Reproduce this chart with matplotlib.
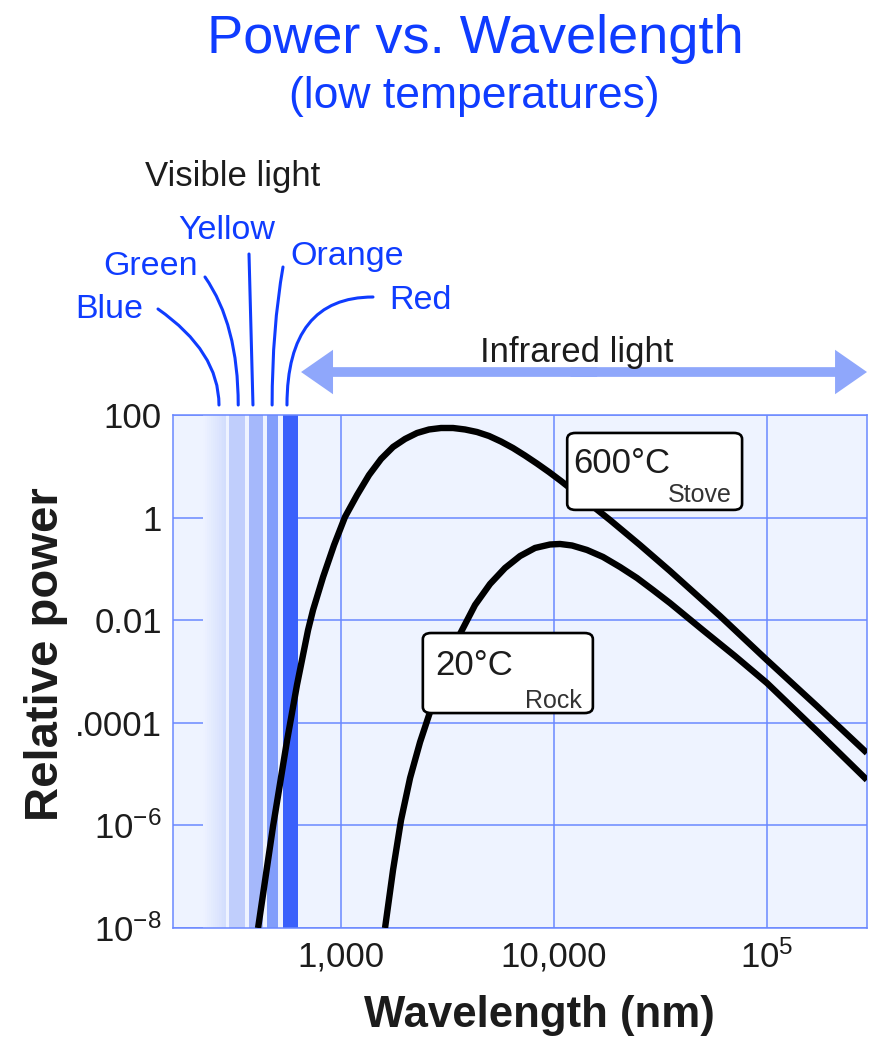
import matplotlib
matplotlib.use('Agg')
import matplotlib.pyplot as plt
from matplotlib.patches import FancyBboxPatch
import numpy as np

plt.rcParams['font.family'] = ['Liberation Sans', 'DejaVu Sans']
plt.rcParams['mathtext.fontset'] = 'custom'
plt.rcParams['mathtext.rm'] = 'Liberation Sans'
plt.rcParams['mathtext.default'] = 'regular'

# --- curves (wavelength in nm, relative power) ---
wl_stove = [409, 481, 560, 623, 702, 741, 826, 930, 1047, 1193, 1358, 1546, 1760,
            2004, 2282, 2597, 2957, 3368, 3833, 4364, 4969, 5656, 6441, 7333, 8349,
            9504, 10820, 14030, 18380, 25420, 35160, 60380, 100300, 172300, 295800]
pw_stove = [1e-8, 9.7e-7, 4.6e-5, 5.5e-4, 6.4e-3, 0.0158, 0.0695, 0.292, 1.03, 2.76,
            6.77, 13.9, 23.8, 34.1, 44.6, 52.2, 55.8, 55.8, 52.2, 46.6, 39.0, 30.4,
            22.7, 16.2, 11.3, 7.74, 5.17, 2.20, 0.898, 0.292, 0.091, 0.0121, 1.67e-3,
            2.12e-4, 2.58e-5]

wl_rock = [1614, 1760, 1919, 2116, 2357, 2626, 3088, 3632, 4272, 5023, 5906, 6948,
           8172, 9607, 10710, 12190, 14330, 17040, 20480, 24610, 29260, 35160, 50230,
           71010, 100300, 172300, 295800]
pw_rock = [1e-8, 1.35e-7, 1.27e-6, 8.4e-6, 4.2e-5, 1.63e-4, 9.8e-4, 5.4e-3, 0.0198,
           0.0508, 0.104, 0.178, 0.256, 0.299, 0.306, 0.286, 0.234, 0.171, 0.109,
           0.0665, 0.0388, 0.0216, 6.4e-3, 2.0e-3, 5.97e-4, 6.9e-5, 7.7e-6]

# visible colour bands (nm)
band_names = ['Blue', 'Green', 'Yellow', 'Orange', 'Red']
band_lo = [226, 299, 371, 451, 536]
band_hi = [290, 356, 431, 508, 630]
band_colors = ['#d2ddfd', '#c0cefc', '#a5b8fb', '#829efb', '#3a60fb']
band_tips = [268, 330, 387, 476, 559]

ytick_vals = [1e-8, 1e-6, 1e-4, 1e-2, 1, 100]
ytick_labels = ['$10^{-8}$', '$10^{-6}$', '.0001', '0.01', '1', '100']
xtick_vals = [1000, 10000, 100000]
xtick_labels = ['1,000', '10,000', '$10^{5}$']

W, H = 871, 1040
BG = '#eef3ff'
GRID = '#6a88ff'
BLUE = '#0f3cff'
INK = '#1c1c1c'


def fx(px):
    return px / W


def fy(py):
    return 1 - py / H


fig = plt.figure(figsize=(W / 100, H / 100), dpi=100)
ax = fig.add_axes([fx(173), 112 / H, 694 / W, 513 / H])
ax.set_facecolor(BG)
ax.set_xscale('log')
ax.set_yscale('log')
ax.set_xlim(163, 296000)
ax.set_ylim(1e-8, 1e2)

ax.set_xticks(xtick_vals, xtick_labels)
ax.set_yticks(ytick_vals, ytick_labels)
ax.minorticks_off()
ax.tick_params(which='both', length=0, labelsize=25, colors=INK)
ax.tick_params(axis='x', pad=9)
ax.tick_params(axis='y', pad=8)
ax.grid(True, which='major', color=GRID, lw=1.1)
ax.set_axisbelow(True)
for sp in ax.spines.values():
    sp.set_color(GRID)
    sp.set_linewidth(1.1)

# visible region: cover the grid, fade in the blue band, then the solid bands
ax.axvspan(band_lo[0], band_hi[-1], color=BG, lw=0, zorder=1)
edges = np.geomspace(band_lo[0], band_hi[0], 13)
ramp_start = np.array(matplotlib.colors.to_rgb(BG))
ramp_end = np.array(matplotlib.colors.to_rgb(band_colors[0]))
for i in range(12):
    t = (i + 0.5) / 12
    ax.axvspan(edges[i], edges[i + 1], color=ramp_start + (ramp_end - ramp_start) * t,
               lw=0, zorder=1.1)
for lo, hi, c in zip(band_lo[1:], band_hi[1:], band_colors[1:]):
    ax.axvspan(lo, hi, color=c, lw=0, zorder=1.1)

ax.plot(wl_stove, pw_stove, color='black', lw=4.6, solid_capstyle='butt',
        solid_joinstyle='round', zorder=3)
ax.plot(wl_rock, pw_rock, color='black', lw=4.6, solid_capstyle='butt',
        solid_joinstyle='round', zorder=3)


# temperature tags
def tag(x0, y0, w, h, big, small, bx, by, sx, sy):
    box = FancyBboxPatch((x0, y0), w, h, boxstyle='round,pad=0,rounding_size=0.012',
                         transform=ax.transAxes, facecolor='white', edgecolor='black',
                         lw=1.9, zorder=4)
    ax.add_patch(box)
    ax.text(bx, by, big, transform=ax.transAxes, fontsize=25, color=INK,
            ha='left', va='baseline', zorder=5)
    ax.text(sx, sy, small, transform=ax.transAxes, fontsize=18, color='#333333',
            ha='right', va='baseline', zorder=5)


tag(0.568, 0.815, 0.252, 0.150, '600°C', 'Stove', 0.577, 0.887, 0.805, 0.830)
tag(0.360, 0.419, 0.245, 0.156, '20°C', 'Rock', 0.378, 0.493, 0.589, 0.429)

# titles
fig.text(fx(475), fy(53), 'Power vs. Wavelength', ha='center', va='baseline',
         fontsize=39, color=BLUE)
fig.text(fx(474), fy(108), '(low temperatures)', ha='center', va='baseline',
         fontsize=32, color=BLUE)
fig.text(fx(46), fy(654), 'Relative power', rotation=90, ha='center', va='center',
         fontsize=34, fontweight='bold', color=INK)
fig.text(fx(539), fy(1027), 'Wavelength (nm)', ha='center', va='baseline',
         fontsize=31.5, fontweight='bold', color=INK)

# visible light labels and leader lines
fig.text(fx(145), fy(186), 'Visible light', ha='left', va='baseline', fontsize=25, color=INK)
label_pos = [(75, 318), (103, 275), (178, 239), (290, 265), (389, 309)]
lead_start = [(158, 309), (205, 277), (249, 254), (283, 267), (373, 297)]
lead_style = ['angle3,angleA=-35,angleB=90', 'angle3,angleA=-55,angleB=90',
              'arc3,rad=0', 'angle3,angleA=80,angleB=90', 'angle3,angleA=0,angleB=90']
for name, (lx, ly), (sx, sy), tip, cs in zip(band_names, label_pos, lead_start,
                                               band_tips, lead_style):
    fig.text(fx(lx), fy(ly), name, ha='left', va='baseline', fontsize=24.5, color=BLUE)
    ax.annotate('', xy=(tip, 1.0195), xycoords=('data', 'axes fraction'),
                xytext=(fx(sx), fy(sy)), textcoords='figure fraction',
                arrowprops=dict(arrowstyle='-', color=BLUE, lw=2.2, shrinkA=0, shrinkB=0,
                                connectionstyle=cs),
                annotation_clip=False)

# infrared double arrow (two overlapping halves)
ir_y = 1.0838
for start, end in ((16000, 651), (12000, 296000)):
    ax.annotate('', xy=(end, ir_y), xycoords=('data', 'axes fraction'),
                xytext=(start, ir_y), textcoords=('data', 'axes fraction'),
                arrowprops=dict(facecolor='#8fa7fb', edgecolor='none', width=7,
                                headwidth=32, headlength=23, shrink=0),
                annotation_clip=False)
fig.text(fx(577), fy(362), 'Infrared light', ha='center', va='baseline', fontsize=25,
         color=INK)

plt.savefig('out.png', dpi=100)
plt.close()
